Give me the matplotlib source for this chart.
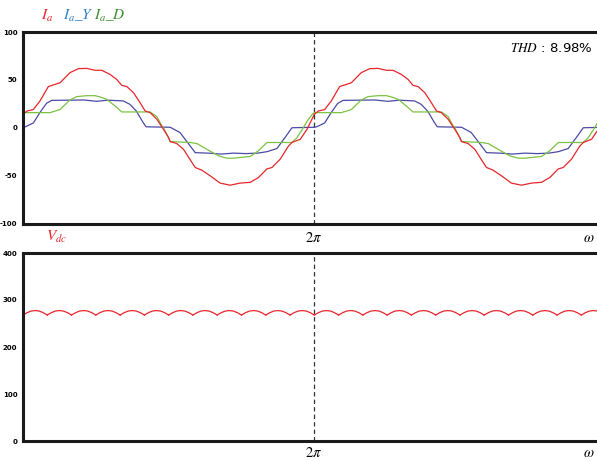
import numpy as np
import matplotlib.pyplot as plt

plt.rcParams['mathtext.fontset'] = 'stix'
plt.rcParams['font.family'] = ['Liberation Sans Narrow', 'DejaVu Sans']
plt.rcParams['axes.unicode_minus'] = False

# one electrical period of the phase-a currents (angle in degrees, current)
ia_deg = [0, 5, 12.8, 21, 31.3, 45.8, 58, 68.4, 78.8, 89, 97.3, 107.6, 115.8, 122,
          128.3, 136.5, 144.8, 151, 157, 165.4, 173.6, 179.8, 181.9, 190, 198.3,
          208.8, 212.8, 221, 231, 243.6, 256, 268.4, 280.8, 291, 301.5, 307.7,
          317.9, 328.2, 332.4, 342.7, 351, 360]
ia_val = [14, 17.5, 19, 28, 43, 47, 57.5, 61.7, 62, 60, 60, 55.7, 50.5, 44.3,
          43, 36.7, 26, 17.5, 15.8, 8.9, -1.6, -10, -14.4, -16.5, -22.4,
          -36.3, -41.5, -44.3, -50, -57.8, -60, -57.8, -57, -52, -43, -41.5,
          -32.8, -19, -15.4, -12, -1.6, 14]

iay_deg = [0, 3, 12.8, 21, 29, 35.5, 55, 75, 91, 105, 124, 132, 140, 148.5, 152,
           182, 194, 206.6, 212.8, 231, 245, 260, 275, 290, 301.5, 313.8, 324,
           332.4, 360]
iay_val = [0.5, 1, 5, 16, 25.5, 28.6, 28.8, 29, 27.6, 28.8, 28, 24.5, 17.5, 5.4, 1,
           0.5, -5, -19, -26, -26.6, -27.5, -26.5, -27, -26.5, -25, -21.7, -10,
           0, 0.5]

iad_deg = [0, 33.4, 45.8, 58, 66.4, 78.8, 89, 96, 103.5, 113.8, 122, 157, 165.4,
           171.6, 173.6, 181.9, 206.6, 214.9, 227, 241.6, 252, 259.8, 280.8, 291,
           301.5, 332, 338, 345, 352, 358, 360]
iad_val = [15.8, 15.8, 19, 29, 32.5, 33.5, 33.5, 32, 29.7, 22.7, 16.5, 16.5, 11.7,
           1.9, 0.2, -14.4, -15.4, -16.5, -22.4, -29.3, -31.8, -31.8, -30, -24,
           -15.4, -15.4, -11, -2, 8, 14.5, 15.8]

# dc link voltage: one 30 degree ripple arc
vdc_arc_deg = [0, 5, 10, 15, 20, 25, 30]
vdc_arc_val = [268, 273, 276.5, 277.5, 276.5, 273, 268]

i_ticks = [-100, -50, 0, 50, 100]
v_ticks = [0, 100, 200, 300, 400]
thd_text = '8.98%'

red = '#e8262b'
W, H = 597, 461
fig = plt.figure(figsize=(W / 100, H / 100), dpi=100)
ax1 = fig.add_axes([23 / W, 1 - 223.5 / H, 574 / W, 191.5 / H])
ax2 = fig.add_axes([23 / W, 1 - 441 / H, 574 / W, 188 / H])

xmax = 2 * np.pi * 574 / 291.3

for k in range(2):
    off = 360 * k
    ax1.plot(np.deg2rad(np.array(iay_deg) + off), iay_val, color='#4a4aa8', lw=0.9)
    ax1.plot(np.deg2rad(np.array(iad_deg) + off), iad_val, color='#7cc242', lw=0.9)
    ax1.plot(np.deg2rad(np.array(ia_deg) + off), ia_val, color=red, lw=0.9)

for n in range(24):
    ax2.plot(np.deg2rad(np.array(vdc_arc_deg) + 30 * n), vdc_arc_val, color=red, lw=0.9)

for ax, ticks in ((ax1, i_ticks), (ax2, v_ticks)):
    ax.set_xlim(0, xmax)
    ax.set_ylim(ticks[0], ticks[-1])
    ax.set_yticks(ticks)
    ax.set_xticks([])
    ax.tick_params(axis='y', length=0, pad=4, labelsize=5)
    for lab in ax.get_yticklabels():
        lab.set_fontweight('bold')
    ax.spines['right'].set_visible(False)
    for s in ('left', 'top', 'bottom'):
        ax.spines[s].set_linewidth(2.2)
        ax.spines[s].set_color('#1a1a1a')
    ax.axvline(2 * np.pi, color='#333333', lw=0.9, dashes=(3.5, 2.5))

# signal names
fig.text(41 / W, 1 - 16 / H, r'$I_a$', color=red, fontsize=11, ha='left', va='center')
fig.text(63 / W, 1 - 16 / H, r'$I_a\_Y$', color='#2f7fc8', fontsize=11, ha='left', va='center')
fig.text(94 / W, 1 - 16 / H, r'$I_a\_D$', color='#3e8e32', fontsize=11, ha='left', va='center')
fig.text(46 / W, 1 - 237 / H, r'$V_{dc}$', color=red, fontsize=11, ha='left', va='center')

fig.text(593 / W, 1 - 48 / H, r'$THD$ : ' + thd_text, fontsize=9.5, ha='right', va='center',
         family=['Liberation Sans Narrow', 'DejaVu Sans'])

for y in (237, 452):
    fig.text(314 / W, 1 - y / H, r'$2\pi$', fontsize=10.5, ha='center', va='center')
    fig.text(595 / W, 1 - y / H, r'$\omega$', fontsize=10.5, ha='right', va='center')

fig.savefig('out.png', dpi=100)
